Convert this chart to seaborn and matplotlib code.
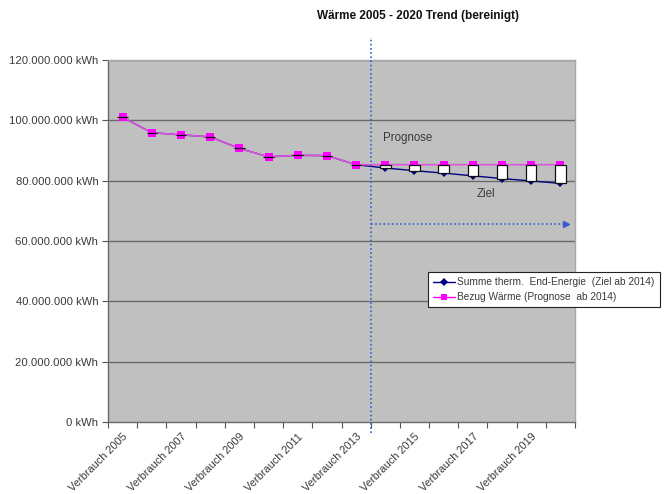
import matplotlib
matplotlib.use("Agg")
import matplotlib.pyplot as plt
import seaborn as sns
import pandas as pd
import numpy as np
from matplotlib.lines import Line2D
from matplotlib.ticker import FuncFormatter, FixedLocator

# Categories (years of consumption)
years = list(range(2005, 2021))
categories = [f"Verbrauch {y}" for y in years]

# Total thermal end energy, target path from 2014 on (kWh)
ziel = [101.0e6, 95.9e6, 95.2e6, 94.5e6, 90.7e6, 87.9e6, 88.4e6, 88.3e6, 85.3e6,
        84.2e6, 83.3e6, 82.5e6, 81.6e6, 80.7e6, 79.9e6, 79.1e6]
# Heat purchase, forecast from 2014 on (kWh)
prognose = [101.0e6, 95.9e6, 95.2e6, 94.5e6, 90.7e6, 87.9e6, 88.4e6, 88.3e6, 85.3e6,
            85.3e6, 85.3e6, 85.3e6, 85.3e6, 85.3e6, 85.3e6, 85.3e6]

label_ziel = "Summe therm.  End-Energie  (Ziel ab 2014)"
label_prog = "Bezug Wärme (Prognose  ab 2014)"
title = "Wärme 2005 - 2020 Trend (bereinigt)"

df = pd.DataFrame({"idx": np.arange(len(categories)), "kategorie": categories,
                   "ziel": ziel, "prognose": prognose})

sns.set_theme(style="white")
plt.rcParams["font.family"] = ["Liberation Sans", "DejaVu Sans"]

fig = plt.figure(figsize=(6.65, 4.94), dpi=100)
ax = fig.add_axes([108 / 665, 1 - 422 / 494, 467 / 665, 362 / 494])
ax.set_facecolor("#c0c0c0")

navy = "#000080"
magenta = "#ff00ff"

sns.lineplot(data=df, x="idx", y="ziel", ax=ax, color=navy, lw=1.0,
             marker="D", markersize=4, markeredgewidth=0, zorder=3)
sns.lineplot(data=df, x="idx", y="prognose", ax=ax, color="#dd55dd", lw=1.2,
             marker="s", markersize=5.5, markerfacecolor=magenta,
             markeredgewidth=0, zorder=4)

# Up/down bars between forecast and target
ax.bar(df["idx"], df["prognose"] - df["ziel"], bottom=df["ziel"], width=0.36,
       color="white", edgecolor="#111111", linewidth=0.9, zorder=5)

# Axes ranges and grid
ax.set_xlim(-0.5, len(categories) - 0.5)
ax.set_ylim(0, 120e6)
ax.set_yticks(np.arange(0, 120e6 + 1, 20e6))
ax.yaxis.set_major_formatter(FuncFormatter(
    lambda v, p: f"{int(round(v)):,} kWh".replace(",", ".")))
for v in np.arange(20e6, 120e6 + 1, 20e6):
    ax.axhline(v, color="#6a6a6a", lw=1.0, zorder=1)

ax.set_xticks(df["idx"][::2])
ax.set_xticklabels(df["kategorie"][::2], rotation=45, ha="right", va="top",
                   rotation_mode="anchor")
ax.xaxis.set_minor_locator(FixedLocator(np.arange(-0.5, len(categories), 1.0)))
ax.tick_params(axis="x", which="major", length=0, pad=7, labelsize=7.9,
               labelcolor="#3a3a3a")
ax.tick_params(axis="x", which="minor", length=4, width=0.8, color="#555555",
               direction="out", bottom=True)
ax.tick_params(axis="y", which="major", length=4, width=0.8, color="#555555",
               direction="out", left=True, pad=3, labelsize=8.1,
               labelcolor="#3a3a3a")
ax.set_xlabel("")
ax.set_ylabel("")

for side in ["top", "right"]:
    ax.spines[side].set_color("#a8a8a8")
    ax.spines[side].set_linewidth(1.0)
for side in ["left", "bottom"]:
    ax.spines[side].set_color("#6a6a6a")
    ax.spines[side].set_linewidth(1.0)

# Forecast start marker and horizon arrow
blue = "#3a5ad8"
ax.plot([8.5, 8.5], [-0.03, 1.064], transform=ax.get_xaxis_transform(),
        color=blue, lw=1.2, ls=(0, (1, 1.5)), clip_on=False, zorder=6)
ax.plot([8.5, 15.15], [65.6e6, 65.6e6], color=blue, lw=1.2, ls=(0, (1, 1.5)),
        zorder=6)
ax.plot([15.2], [65.6e6], marker=">", color=blue, markersize=5, zorder=6)

ax.text(8.92, 94.1e6, "Prognose", fontsize=8.3, color="#3a3a3a", ha="left",
        va="center")
ax.text(12.45, 75.6e6, "Ziel", fontsize=8.3, color="#3a3a3a", ha="center",
        va="center")

fig.text(418 / 665, 1 - 16 / 494, title, fontsize=8.5, fontweight="bold",
         ha="center", va="center", color="#111111")

handles = [
    Line2D([], [], color=navy, lw=1.0, marker="D", markersize=4,
           markeredgewidth=0),
    Line2D([], [], color=magenta, lw=1.0, marker="s", markersize=5,
           markeredgewidth=0),
]
leg = fig.legend(handles, [label_ziel, label_prog], loc="upper left",
                 bbox_to_anchor=(428 / 665, 1 - 272 / 494), fontsize=7.3,
                 frameon=True, fancybox=False, edgecolor="#222222",
                 framealpha=1, handlelength=2.2, handletextpad=0.2,
                 borderpad=0.5, labelspacing=0.5, borderaxespad=0)
leg.get_frame().set_linewidth(0.8)
for t in leg.get_texts():
    t.set_color("#3a3a3a")

fig.savefig("out.png", dpi=100, facecolor="white")
